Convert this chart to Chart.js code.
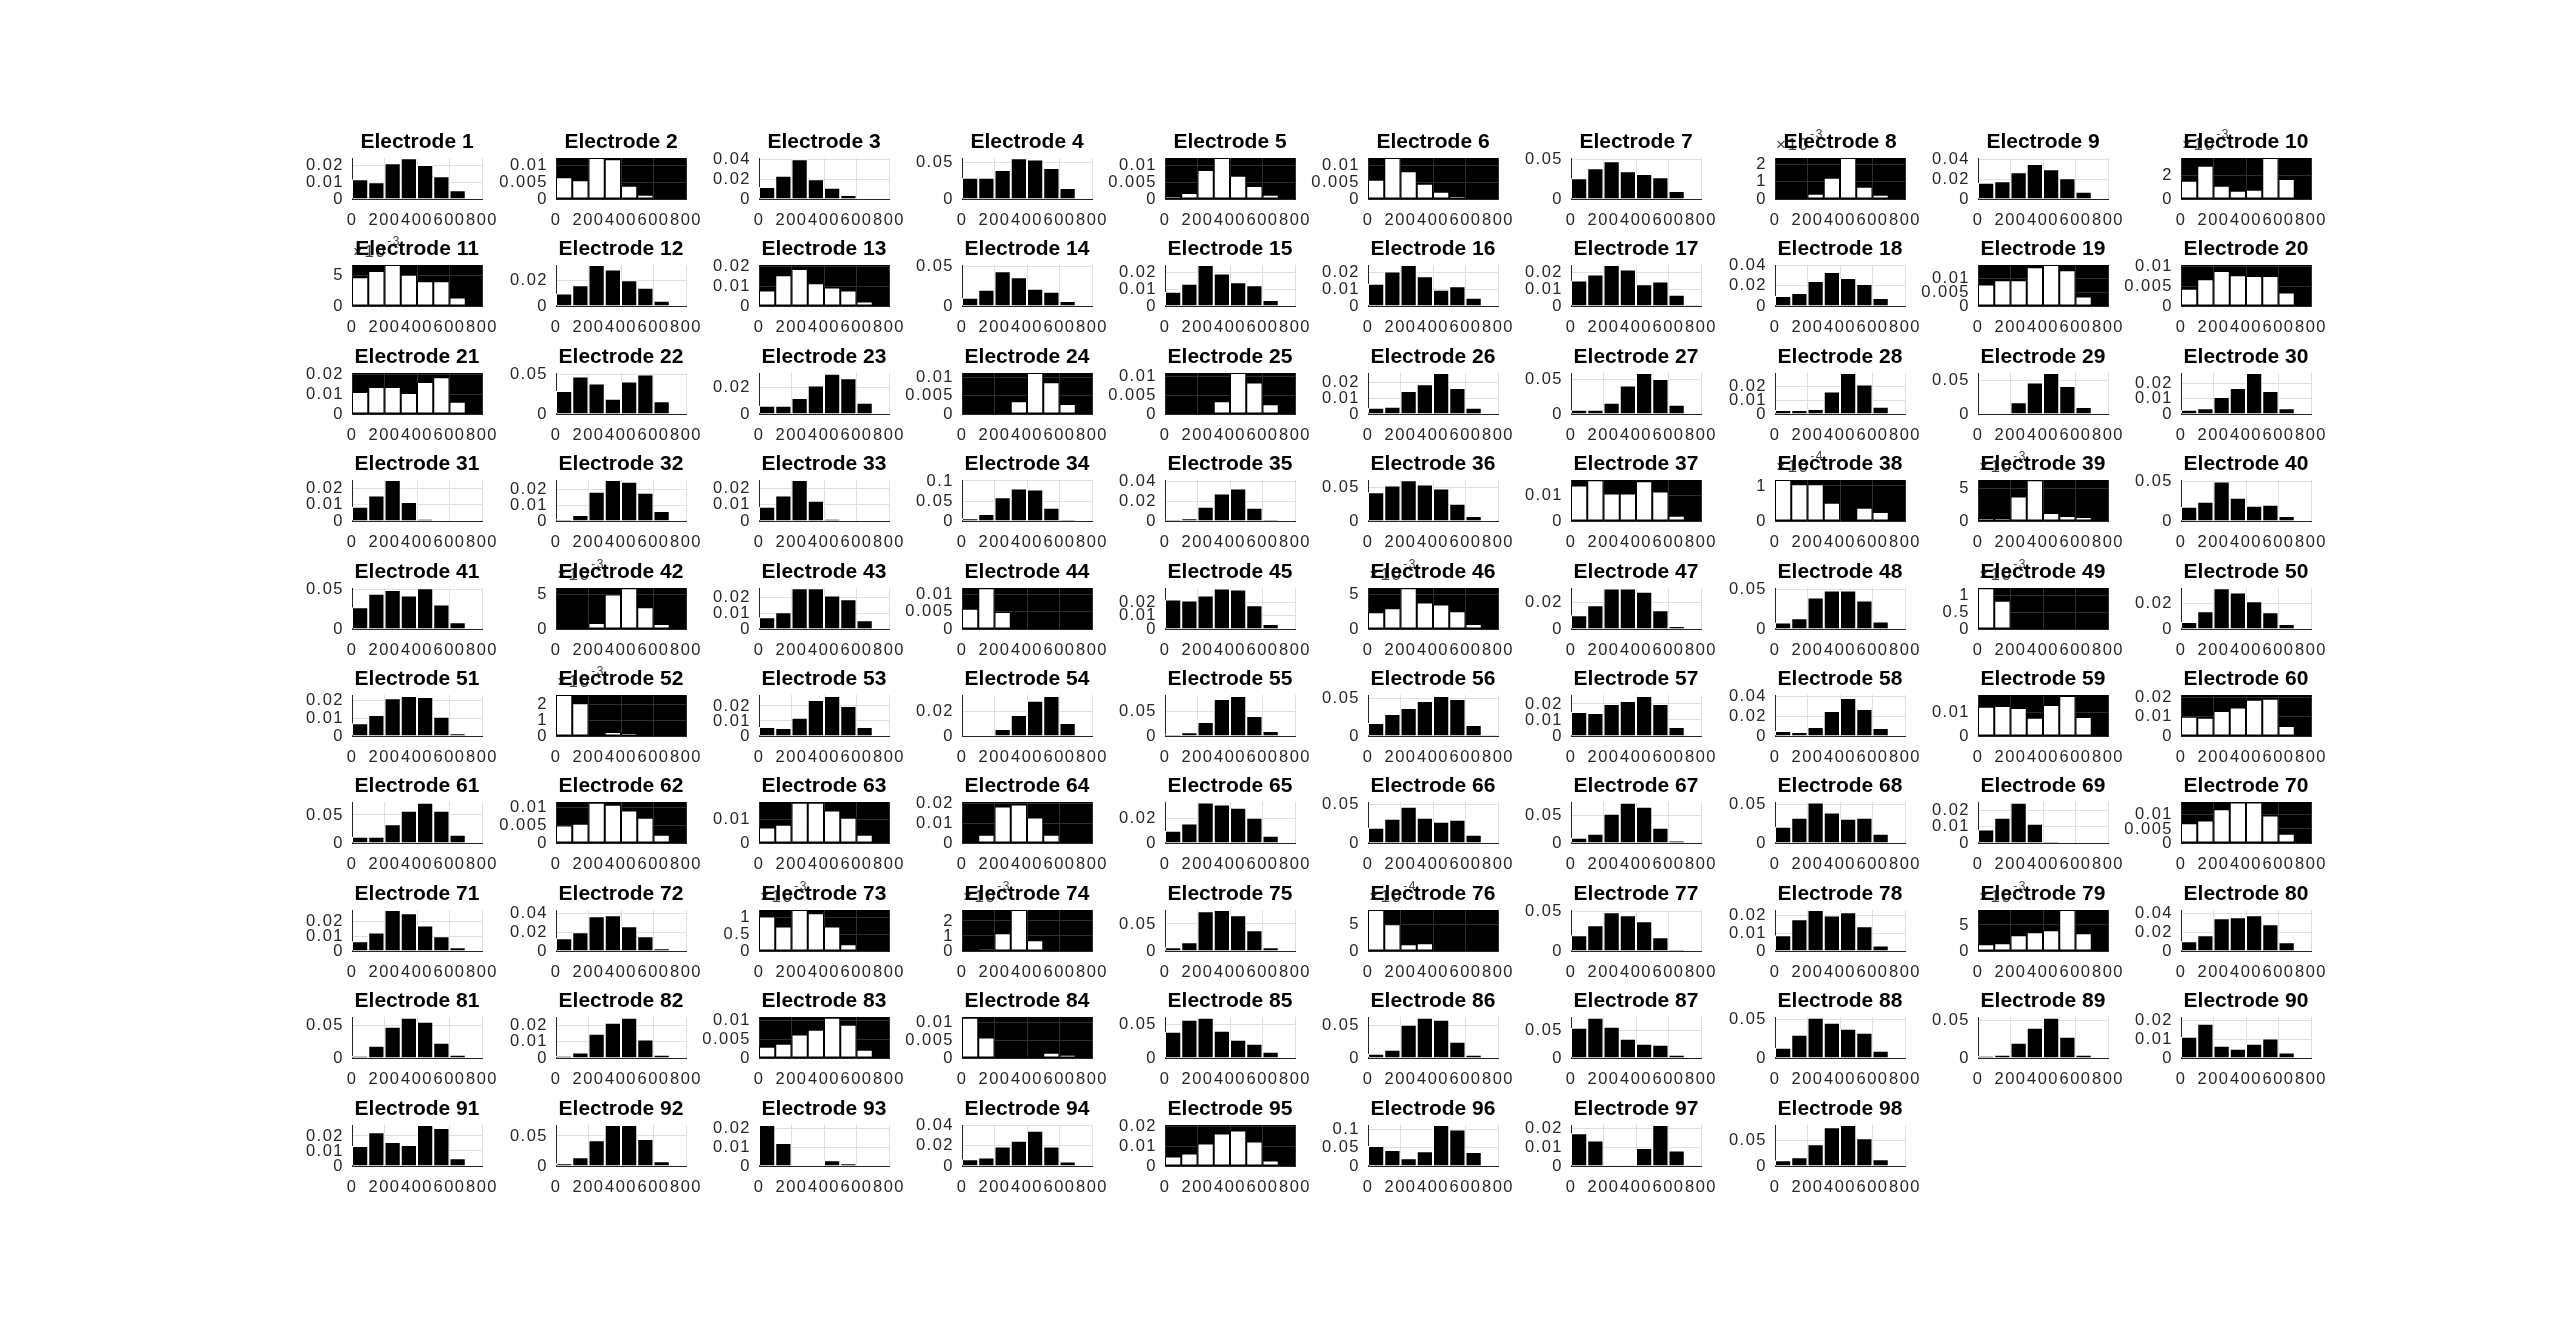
<!DOCTYPE html>
<html><head><meta charset="utf-8">
<script src="https://cdn.jsdelivr.net/npm/chart.js@4.4.1/dist/chart.umd.min.js"></script>
<style>
html,body{margin:0;padding:0;background:#fff;overflow:hidden;}
#fig{position:relative;width:2560px;height:1322px;background:#fff;}
#fig canvas{position:absolute;}
</style></head><body><div id="fig"></div>
<script>
// ---------------- data ----------------
const binCenters = [50,150,250,350,450,550,650,750];
const xTicks = [0,200,400,600,800];
const electrodeIds = Array.from({length:98},(_,i)=>i+1);

const counts = [
[0.012,0.0102,0.0217,0.0246,0.0205,0.0138,0.0053,0],
[0.0066,0.0057,0.0124,0.0120,0.0040,0.0013,0.0007,0.0001],
[0.012,0.0233,0.040,0.020,0.0113,0.004,0,0],
[0.0291,0.0291,0.040,0.056,0.0545,0.0427,0.015,0.001],
[0.0009,0.0018,0.0088,0.0124,0.0070,0.0039,0.0013,0],
[0.0058,0.0124,0.0084,0.0046,0.0022,0.0009,0.0003,0],
[0.0265,0.039,0.0479,0.0353,0.0319,0.0277,0.0101,0],
[0.00008,0.00013,0.00031,0.00123,0.00238,0.00071,0.00025,0],
[0.0163,0.018,0.027,0.0353,0.030,0.021,0.0073,0],
[0.00153,0.00278,0.00111,0.00069,0.00078,0.00344,0.00167,0],
[0.00467,0.00566,0.00665,0.00505,0.0040,0.0040,0.00137,0],
[0.0097,0.016,0.0318,0.0284,0.020,0.0142,0.004,0],
[0.0078,0.0154,0.0185,0.0114,0.0093,0.0078,0.0022,0],
[0.0102,0.0203,0.0436,0.036,0.0216,0.0178,0.0064,0],
[0.0084,0.0132,0.0242,0.0192,0.014,0.0122,0.0036,0],
[0.0132,0.0204,0.0242,0.0176,0.0096,0.0116,0.0048,0],
[0.015,0.0186,0.0242,0.0216,0.0128,0.0144,0.0066,0.0006],
[0.0098,0.0128,0.0246,0.0334,0.0275,0.0216,0.0079,0],
[0.0078,0.0093,0.0093,0.014,0.0148,0.0129,0.0034,0],
[0.0044,0.0068,0.0089,0.0078,0.0076,0.0076,0.0034,0],
[0.0112,0.0137,0.0137,0.0107,0.0162,0.0187,0.0062,0],
[0.0292,0.0475,0.0388,0.0192,0.0413,0.050,0.0163,0],
[0.00625,0.00625,0.01225,0.02175,0.03075,0.02725,0.0085,0],
[0,0,0,0.0035,0.0112,0.0087,0.0027,0],
[0,0,0,0.0034,0.0109,0.0084,0.0026,0],
[0.004,0.0046,0.0146,0.0188,0.026,0.0165,0.004,0],
[0.0063,0.0063,0.0163,0.0418,0.060,0.0514,0.0135,0],
[0.0028,0.0028,0.0035,0.0162,0.0294,0.0212,0.0052,0],
[0.001,0.001,0.0176,0.047,0.0613,0.0417,0.0103,0],
[0.0028,0.0038,0.0111,0.0168,0.0266,0.0149,0.0038,0],
[0.0086,0.0155,0.0249,0.0116,0.0012,0,0,0],
[0.0011,0.0038,0.0185,0.026,0.0249,0.0179,0.0064,0],
[0.0088,0.0156,0.0252,0.0125,0.0013,0,0,0],
[0.0068,0.0178,0.0593,0.0814,0.0788,0.033,0.0034,0],
[0.0014,0.0028,0.0145,0.028,0.0331,0.0134,0.0014,0],
[0.0425,0.0525,0.060,0.054,0.048,0.0255,0.0075,0],
[0.0138,0.0158,0.0107,0.0107,0.0154,0.0114,0.002,0],
[0.000117,0.000105,0.000105,0.000052,0,0.000038,0.000026,0],
[0.00047,0.00047,0.00379,0.00632,0.00126,0.00079,0.00063,0],
[0.0181,0.0246,0.0504,0.0297,0.0194,0.0207,0.0065,0],
[0.0277,0.045,0.050,0.0429,0.0521,0.0315,0.0088,0],
[0,0.0001,0.00086,0.0050,0.0059,0.00314,0.00071,0],
[0.0075,0.0106,0.0258,0.0258,0.0212,0.0188,0.0056,0],
[0.0059,0.0118,0.0049,0.0006,0,0,0,0],
[0.022,0.0212,0.0249,0.0302,0.0293,0.0176,0.0037,0],
[0.00243,0.0030,0.0059,0.00386,0.00357,0.00257,0.00071,0],
[0.0102,0.0176,0.0302,0.0302,0.0278,0.0139,0.0022,0],
[0.0084,0.0139,0.0403,0.0492,0.0492,0.0366,0.0097,0],
[0.00122,0.00085,0.00006,0,0.00003,0.00006,0.00006,0],
[0.0053,0.0137,0.0314,0.0281,0.0213,0.0129,0.0038,0],
[0.0072,0.0119,0.0213,0.0226,0.0221,0.0109,0.0015,0],
[0.00262,0.0021,0.00013,0.00026,0.00019,0.00013,0,0],
[0.006,0.0053,0.0122,0.024,0.0267,0.020,0.006,0],
[0,0,0.0056,0.0168,0.0283,0.032,0.0104,0],
[0.0033,0.0073,0.028,0.074,0.080,0.040,0.010,0],
[0.0173,0.0292,0.0372,0.0465,0.0531,0.0491,0.0146,0.0013],
[0.015,0.0144,0.020,0.0219,0.025,0.020,0.0056,0],
[0.005,0.004,0.009,0.025,0.038,0.027,0.008,0],
[0.0122,0.0125,0.0117,0.0076,0.0129,0.0167,0.0079,0.0004],
[0.010,0.0095,0.0129,0.0147,0.0188,0.0193,0.0052,0],
[0.0113,0.0113,0.0333,0.0577,0.072,0.0577,0.0149,0],
[0.0049,0.0054,0.0113,0.0107,0.0091,0.0071,0.0023,0],
[0.0065,0.0077,0.017,0.017,0.0137,0.0107,0.0035,0],
[0.0007,0.0042,0.0185,0.0195,0.0129,0.0042,0.0003,0],
[0.010,0.0157,0.0327,0.0311,0.0286,0.0205,0.0059,0],
[0.0198,0.0315,0.047,0.0328,0.0276,0.0302,0.0108,0],
[0.0098,0.0171,0.0537,0.0738,0.0665,0.028,0.0043,0],
[0.0211,0.0328,0.0522,0.0394,0.0315,0.0328,0.0121,0.0009],
[0.0082,0.0155,0.0247,0.0118,0.0008,0,0,0],
[0.007,0.008,0.012,0.0144,0.0144,0.0098,0.0033,0.0002],
[0.0066,0.0127,0.028,0.0257,0.0175,0.010,0.0025,0],
[0.0136,0.020,0.0371,0.0382,0.0264,0.0157,0.0029,0],
[0.00103,0.00073,0.00122,0.00112,0.00073,0.0002,0,0],
[0.00011,0.00018,0.00118,0.00273,0.00071,0.00004,0,0],
[0.0068,0.016,0.0735,0.0759,0.066,0.0383,0.0068,0],
[0.00076,0.000494,0.000123,0.000142,0,0,0,0],
[0.0199,0.0326,0.0492,0.0453,0.0377,0.0174,0.0021,0],
[0.0087,0.0176,0.0228,0.0198,0.0215,0.0137,0.0031,0],
[0.00128,0.00147,0.00301,0.00359,0.00397,0.00788,0.0034,0.00032],
[0.0104,0.0168,0.035,0.0361,0.0382,0.0286,0.0093,0],
[0.0031,0.0191,0.0485,0.0624,0.0562,0.0237,0.0052,0],
[0.0012,0.0033,0.0149,0.0216,0.0247,0.0114,0.002,0],
[0.003,0.0038,0.0063,0.0076,0.0108,0.0089,0.0022,0],
[0.0114,0.0058,0.0004,0,0.0006,0.0015,0.0009,0],
[0.0391,0.0569,0.0599,0.0406,0.0272,0.0213,0.0094,0],
[0.0067,0.0129,0.0515,0.0624,0.0593,0.0253,0.0052,0],
[0.0555,0.0738,0.0573,0.0354,0.0262,0.0244,0.0061,0],
[0.0135,0.0304,0.0526,0.0461,0.0383,0.033,0.0096,0],
[0.0027,0.0045,0.0205,0.0406,0.054,0.0286,0.0045,0],
[0.0114,0.0184,0.0066,0.005,0.0077,0.0104,0.0029,0],
[0.0133,0.0224,0.016,0.014,0.0273,0.0253,0.0051,0],
[0.0044,0.0144,0.0428,0.0683,0.0683,0.045,0.0078,0],
[0.0216,0.0121,0,0,0.003,0.0014,0,0],
[0.0065,0.0084,0.019,0.0248,0.0345,0.019,0.0045,0],
[0.0048,0.0063,0.0113,0.0163,0.0178,0.0123,0.0028,0],
[0.0545,0.0436,0.0209,0.04,0.1118,0.100,0.0382,0.002],
[0.0172,0.0135,0.0004,0.0004,0.0095,0.0216,0.0082,0.0004],
[0.011,0.0169,0.0422,0.0753,0.0799,0.0539,0.013,0]
];

const yMax = [
0.0248,0.0124,0.0413,0.0564,0.0124,0.0124,0.0521,0.00238,0.0413,0.00344,
0.00665,0.0318,0.0205,0.0513,0.0242,0.0242,0.0242,0.0402,0.0148,0.0104,
0.0208,0.052,0.03125,0.0112,0.0109,0.026,0.060,0.0294,0.0613,0.0266,
0.0249,0.026,0.0252,0.1025,0.0417,0.0605,0.0159,0.000117,0.00637,0.0522,
0.0525,0.00595,0.026,0.0119,0.0305,0.00595,0.0305,0.0525,0.00123,0.0316,
0.0232,0.00262,0.0273,0.0328,0.082,0.0544,0.0256,0.041,0.0171,0.0212,
0.0732,0.0115,0.0173,0.0208,0.0332,0.053,0.075,0.053,0.0251,0.0146,
0.028,0.0439,0.00122,0.00273,0.0759,0.00076,0.0521,0.0228,0.00788,0.0439,
0.0634,0.0251,0.011,0.0116,0.0609,0.0634,0.075,0.0535,0.0549,0.022,
0.0273,0.0683,0.0216,0.0401,0.0205,0.112,0.0216,0.0799
];

const T1 = [0,0.01,0.02], T5 = [0,0.005,0.01], T24 = [0,0.02,0.04], T50 = [0,0.05], T20 = [0,0.02], T10 = [0,0.01];
const yTicks = [
T1,T5,T24,T50,T5,T5,T50,[0,0.001,0.002],T24,[0,0.002],
[0,0.005],T20,T1,T50,T1,T1,T1,T24,T5,T5,
T1,T50,T20,T5,T5,T1,T50,T1,T50,T1,
T1,T1,T1,[0,0.05,0.1],T24,T50,T10,[0,0.0001],[0,0.005],T50,
T50,[0,0.005],T1,T5,T1,[0,0.005],T20,T50,[0,0.0005,0.001],T20,
T1,[0,0.001,0.002],T1,T20,T50,T50,T1,T24,T10,T1,
T50,T5,T10,T1,T20,T50,T50,T50,T1,T5,
T1,T24,[0,0.0005,0.001],[0,0.001,0.002],T50,[0,0.0005],T50,T1,[0,0.005],T24,
T50,T1,T5,T5,T50,T50,T50,T50,T50,T1,
T1,T50,T1,T24,T1,[0,0.05,0.1],T1,T50
];

// y-axis exponent (x10^n) shown above the axis for these electrodes
const yExponent = {8:-3,10:-3,11:-3,38:-4,39:-3,42:-3,46:-3,49:-3,52:-3,73:-3,74:-3,76:-4,79:-3};

// electrodes rendered with a black plot area and white bars
const invertedPanels = [2,5,6,8,10,11,13,19,20,21,24,25,37,38,39,42,44,46,49,52,59,60,62,63,64,70,73,74,76,79,83,84,95];

// ---------------- layout / style ----------------
const FONT = '"Liberation Sans", Arial, Helvetica, sans-serif';
const NCOLS = 10, LEFT0 = 352.3, TOP0 = 158, COL_PITCH = 203.2, ROW_PITCH = 107.4;
const PLOT_W = 130, PLOT_H = 41, YW = 72, TOPM = 34, XH = 34, RIGHTM = 22;
const TITLE_SIZE = 21, TITLE_PAD = 5, TICK_SIZE = 16.5, LETTER_SP = '1.5px';

const panelDecor = {
  id: 'panelDecor',
  beforeDraw(chart, args, opts) {
    const ctx = chart.ctx, a = chart.chartArea;
    // tick labels are drawn slightly spaced; the title keeps normal spacing
    if ('letterSpacing' in ctx) {
      ctx.letterSpacing = LETTER_SP;
      const tb = chart.titleBlock;
      if (tb && !tb._spacingWrapped) {
        const orig = tb.draw;
        tb.draw = function (...argsIn) {
          const c = this.ctx, prev = c.letterSpacing;
          c.letterSpacing = '0px';
          orig.apply(this, argsIn);
          c.letterSpacing = prev;
        };
        tb._spacingWrapped = true;
      }
    }
    if (opts.inverted) {
      ctx.save();
      ctx.fillStyle = '#000';
      ctx.fillRect(a.left, a.top, a.right - a.left, a.bottom - a.top);
      ctx.restore();
    }
    if (opts.exp) {
      ctx.save();
      ctx.fillStyle = '#404040';
      ctx.textAlign = 'left';
      ctx.textBaseline = 'alphabetic';
      ctx.font = '17px ' + FONT;
      const base = '\u00d710';
      ctx.fillText(base, a.left + 1, a.top - 8);
      const w = ctx.measureText(base).width;
      ctx.font = '12px ' + FONT;
      ctx.fillText(String(opts.exp), a.left + 2 + w, a.top - 20);
      ctx.restore();
    }
  }
};

function fmt(v) { return String(Math.round(v * 1e6) / 1e6); }

const fig = document.getElementById('fig');
electrodeIds.forEach((id, i) => {
  const col = i % NCOLS, row = Math.floor(i / NCOLS);
  const pl = Math.round(LEFT0 + col * COL_PITCH);
  const pt = Math.round(TOP0 + row * ROW_PITCH);
  const W = YW + PLOT_W + RIGHTM, H = TOPM + PLOT_H + XH;
  const cv = document.createElement('canvas');
  cv.width = W; cv.height = H;
  cv.style.width = W + 'px'; cv.style.height = H + 'px';
  cv.style.left = (pl - YW) + 'px'; cv.style.top = (pt - TOPM) + 'px';
  fig.appendChild(cv);

  const inv = invertedPanels.includes(id);
  const exp = yExponent[id] || 0;
  const gridColor = inv ? '#2e2e2e' : '#dfdfdf';
  const tickFont = {family: FONT, size: TICK_SIZE};

  new Chart(cv, {
    type: 'bar',
    data: {
      datasets: [{
        data: binCenters.map((x, j) => ({x: x, y: counts[i][j]})),
        backgroundColor: inv ? '#ffffff' : '#000000',
        borderColor: inv ? '#000000' : '#ffffff',
        borderWidth: 1,
        borderSkipped: inv ? false : 'start',
        barPercentage: 1,
        categoryPercentage: 1,
        inflateAmount: 0
      }]
    },
    options: {
      responsive: false,
      animation: false,
      devicePixelRatio: 1,
      events: [],
      layout: {padding: {top: TOPM - TITLE_SIZE - TITLE_PAD, right: RIGHTM, bottom: 0, left: 0}},
      plugins: {
        legend: {display: false},
        tooltip: {enabled: false},
        title: {
          display: true, text: 'Electrode ' + id, fullSize: false, color: '#000',
          font: {family: FONT, size: TITLE_SIZE, weight: 'bold', lineHeight: 1},
          padding: {top: 0, bottom: TITLE_PAD}
        },
        panelDecor: {inverted: inv, exp: exp}
      },
      scales: {
        x: {
          type: 'linear', min: 0, max: 800, offset: false,
          grid: {offset: false, color: gridColor, drawTicks: false, lineWidth: 1},
          border: {display: true, color: '#262626', width: 1},
          ticks: {font: tickFont, color: '#262626', padding: 12, maxRotation: 0, minRotation: 0,
                  autoSkip: false, callback: v => String(v)},
          afterBuildTicks: s => { s.ticks = xTicks.map(v => ({value: v})); },
          afterFit: s => { s.height = XH; s.paddingLeft = 0; s.paddingRight = 0; }
        },
        y: {
          type: 'linear', min: 0, max: yMax[i],
          grid: {color: gridColor, drawTicks: false, lineWidth: 1},
          border: {display: true, color: '#262626', width: 1},
          ticks: {font: tickFont, color: '#262626', padding: 8, autoSkip: false,
                  callback: v => exp ? fmt(v / Math.pow(10, exp)) : fmt(v)},
          afterBuildTicks: s => { s.ticks = yTicks[i].map(v => ({value: v})); },
          afterFit: s => { s.width = YW; s.paddingTop = 0; s.paddingBottom = 0; }
        }
      }
    },
    plugins: [panelDecor]
  });
});
</script>
</body></html>
